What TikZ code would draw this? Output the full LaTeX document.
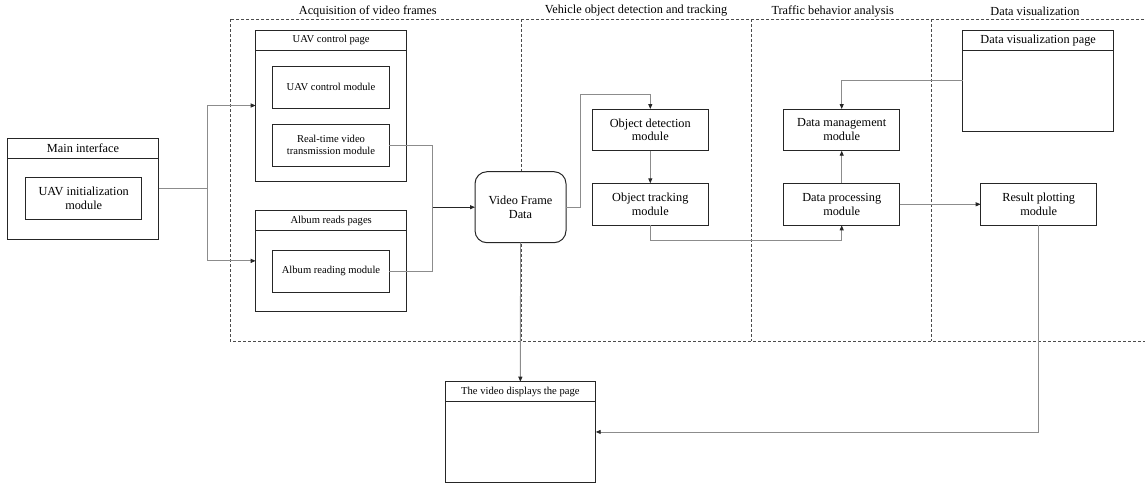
\documentclass[tikz,border=0pt]{standalone}
\usepackage{fontspec}
\setmainfont{Liberation Serif}
\usetikzlibrary{arrows.meta}
\begin{document}
\begin{tikzpicture}[x=1pt,y=-1pt,
  box/.style={draw=black!85, line width=1pt, fill=white, inner sep=0pt, outer sep=0pt, anchor=north west, align=center},
  big/.style={font=\fontsize{12.3}{13.8}\selectfont},
  small/.style={font=\fontsize{10.6}{12.5}\selectfont},
  conn/.style={draw=black!45, line width=0.9pt},
  arr/.style={conn, -{Triangle[length=5pt,width=4pt,color=black!85]}},
  lane/.style={draw=black!70, line width=0.9pt, dash pattern=on 3pt off 2pt},
  title/.style={font=\fontsize{12.3}{14}\selectfont, inner sep=0pt}
]
\useasboundingbox (0,0) rectangle (1145,483);

% swim lanes
\draw[lane] (230,19) rectangle (1175,341);
\draw[lane] (521,19) -- (521,341);
\draw[lane] (751,19) -- (751,341);
\draw[lane] (931,19) -- (931,341);

\node[title] (laneA) at (367.7,11) {Acquisition of video frames};
\node[title] (laneB) at (636,11) {Vehicle object detection and tracking};
\node[title] (laneC) at (832.7,11) {Traffic behavior analysis};
\node[title] (laneD) at (1035,11) {Data visualization};

% main interface
\node[box, minimum width=151pt, minimum height=101pt] (main) at (7.5,138) {};
\node[box, big, anchor=north, minimum width=151pt, minimum height=20.3pt] (mainhead) at (main.north) {Main interface};
\node[box, big, minimum width=116pt, minimum height=42pt] (init) at (25.7,177.3) {UAV initialization\\module};

% UAV control page
\node[box, minimum width=151pt, minimum height=151pt] (uavpage) at (255.7,30) {};
\node[box, small, anchor=north, minimum width=151pt, minimum height=20.7pt] (uavhead) at (uavpage.north) {UAV control page};
\node[box, small, minimum width=116.6pt, minimum height=42.3pt] (uavctl) at (272.7,66) {UAV control module};
\node[box, small, minimum width=116.6pt, minimum height=42pt] (rtv) at (272.7,124) {Real-time video\\transmission module};

% album reads pages
\node[box, minimum width=151pt, minimum height=100.3pt] (albpage) at (255.7,210.7) {};
\node[box, small, anchor=north, minimum width=151pt, minimum height=20pt] (albhead) at (albpage.north) {Album reads pages};
\node[box, small, minimum width=116.6pt, minimum height=42.3pt] (albmod) at (272.7,250) {Album reading module};

% video frame data
\node[box, big, rounded corners=12pt, minimum width=91pt, minimum height=71pt] (vfd) at (475,171.7) {Video Frame\\Data};

% detection and tracking
\node[box, big, minimum width=116pt, minimum height=41.7pt] (objdet) at (592.3,109) {Object detection\\module};
\node[box, big, minimum width=116pt, minimum height=42pt] (objtrk) at (592.3,183.3) {Object tracking\\module};

% traffic behaviour analysis
\node[box, big, minimum width=116pt, minimum height=41.7pt] (dm) at (783.7,109) {Data management\\module};
\node[box, big, minimum width=116pt, minimum height=42pt] (dp) at (783.7,183.3) {Data processing\\module};

% data visualization
\node[box, minimum width=151pt, minimum height=101pt] (dvp) at (962.7,30) {};
\node[box, big, anchor=north, minimum width=151pt, minimum height=20.7pt] (dvphead) at (dvp.north) {Data visualization page};
\node[box, big, minimum width=116pt, minimum height=42pt] (rp) at (980.7,183.3) {Result plotting\\module};

% video display page
\node[box, minimum width=150.7pt, minimum height=100.5pt] (vdp) at (445,381.7) {};
\node[box, small, anchor=north, minimum width=150.7pt, minimum height=20pt] (vdphead) at (vdp.north) {The video displays the page};

% connectors
\draw[arr] (main.east) -- ++(49.2,0) coordinate (split) |- (uavpage.west);
\draw[arr] (split) |- (albpage.west);
\draw[conn] (rtv.east) -- ++(43.4,0) coordinate (merge) |- (albmod.east);
\draw[arr, draw=black!85] (merge |- vfd.west) -- (vfd.west);
\draw[arr] (vfd.east) -- ++(14,0) -- ++(0,-112.9) -| (objdet.north);
\draw[arr] (objdet.south) -- (objtrk.north);
\draw[arr] (objtrk.south) -- ++(0,15.4) -| (dp.south);
\draw[arr] (dp.north) -- (dm.south);
\draw[arr] (dvp.west) -| (dm.north);
\draw[arr] (dp.east) -- (rp.west);
\draw[arr] (rp.south) |- (vdp.east);
\draw[arr] (vfd.south) -- (vdp.north);
\end{tikzpicture}
\end{document}
